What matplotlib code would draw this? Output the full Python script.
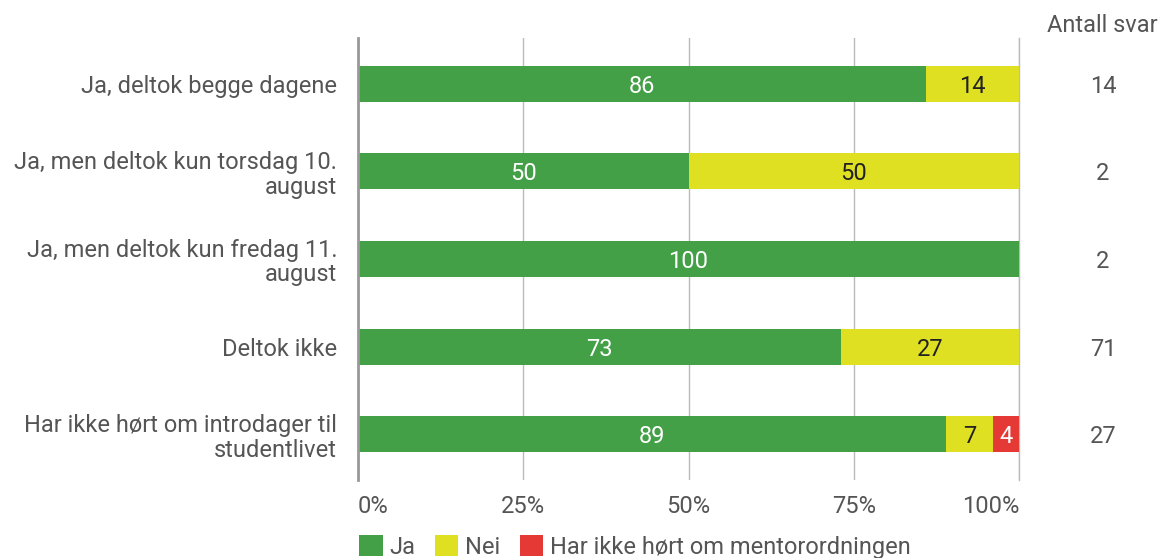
import matplotlib
matplotlib.use("Agg")
import matplotlib.pyplot as plt
from matplotlib.patches import Patch

plt.rcParams['font.family'] = ['Roboto', 'DejaVu Sans']

categories = [
    "Ja, deltok begge dagene",
    "Ja, men deltok kun torsdag 10.\naugust",
    "Ja, men deltok kun fredag 11.\naugust",
    "Deltok ikke",
    "Har ikke hørt om introdager til\nstudentlivet",
]
ja = [86, 50, 100, 73, 89]
nei = [14, 50, 0, 27, 7]
ikke_hort = [0, 0, 0, 0, 4]
antall_svar = [14, 2, 2, 71, 27]
series_names = ["Ja", "Nei", "Har ikke hørt om mentorordningen"]
xticks = [0, 25, 50, 75, 100]

colors = ["#43a047", "#e0e022", "#e53935"]
text_colors = ["white", "#222222", "white"]
label_gray = "#555555"
fs = 17

fig = plt.figure(figsize=(11.61, 5.58), dpi=100)
ax = fig.add_axes([358 / 1161, 1 - 480 / 558, (1019 - 358) / 1161, (480 - 38) / 558])

y = list(range(len(categories)))
left = [0] * len(categories)
for vals, col, tcol in zip([ja, nei, ikke_hort], colors, text_colors):
    ax.barh(y, vals, left=left, height=0.41, color=col, zorder=3)
    for i, v in enumerate(vals):
        if v > 0:
            ax.text(left[i] + v / 2, i, str(v), ha='center', va='center_baseline',
                    color=tcol, fontsize=fs, zorder=4)
    left = [l + v for l, v in zip(left, vals)]

ax.set_xlim(0, 100)
ax.set_ylim(len(categories) - 0.48, -0.52)
ax.set_yticks(y)
ax.set_yticklabels(categories, fontsize=fs, color=label_gray, linespacing=1.1)
ax.set_xticks(xticks)
ax.set_xticklabels([f"{t}%" for t in xticks], fontsize=fs, color=label_gray)
# first and last tick labels sit inside the axis ends
xlabels = ax.get_xticklabels()
xlabels[0].set_horizontalalignment('left')
xlabels[-1].set_horizontalalignment('right')
ax.tick_params(axis='both', length=0)
ax.tick_params(axis='y', pad=15)
ax.tick_params(axis='x', pad=10.5)
for s in ['top', 'right', 'bottom']:
    ax.spines[s].set_visible(False)
ax.spines['left'].set_color("#999999")
ax.spines['left'].set_linewidth(2)
ax.spines['left'].set_zorder(5)
ax.grid(axis='x', color="#bbbbbb", linewidth=1, zorder=0)
ax.axvline(100, color="#bbbbbb", linewidth=1, zorder=0, clip_on=False)

# Antall svar column
for i, n in enumerate(antall_svar):
    ax.annotate(str(n), xy=(1103 / 1161, i), xycoords=('figure fraction', 'data'),
                ha='center', va='center_baseline', fontsize=fs, color=label_gray)
fig.text(1158 / 1161, 1 - 25 / 558, "Antall svar", ha='right', va='center',
         fontsize=fs, color=label_gray)

handles = [Patch(facecolor=c, edgecolor='none') for c in colors]
fig.legend(handles, series_names, loc='center left', bbox_to_anchor=(352 / 1161, 1 - 547 / 558),
           ncol=3, frameon=False, fontsize=fs, handlelength=1.0, handleheight=1.0,
           handletextpad=0.3, columnspacing=0.8, labelcolor=label_gray,
           borderaxespad=0, borderpad=0.3)

fig.savefig("out.png", dpi=100)
